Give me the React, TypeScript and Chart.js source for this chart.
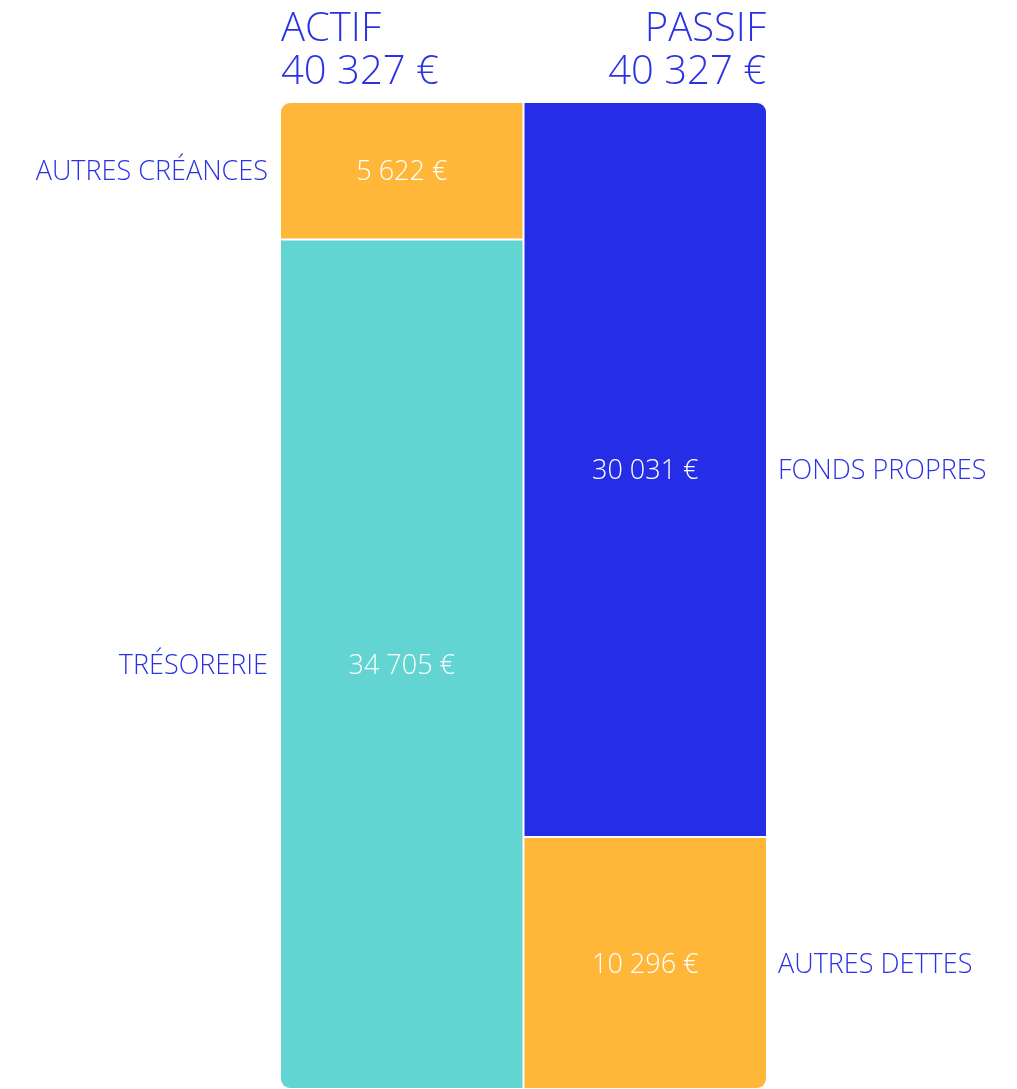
import React, { useEffect, useRef } from "react";
import { Chart, registerables } from "chart.js";

Chart.register(...registerables);

const columns = ["ACTIF", "PASSIF"];
const columnTotals = [40327, 40327];
const seriesNames = ["TRÉSORERIE", "AUTRES CRÉANCES", "AUTRES DETTES", "FONDS PROPRES"];
const tresorerie = [34705, null];
const autresCreances = [5622, null];
const autresDettes = [null, 10296];
const fondsPropres = [null, 30031];

const ORANGE = "#FFB739";
const TEAL = "#62D5D3";
const BLUE = "#252DE6";
const TEXT = "#2A32E4";
const FONT = "'Open Sans', 'Noto Sans', sans-serif";

const fmt = (v: number) => v.toString().replace(/\B(?=(\d{3})+(?!\d))/g, " ") + " €";

const labelPlugin = {
  id: "balanceLabels",
  afterDatasetsDraw(chart: any) {
    const { ctx, chartArea } = chart;
    ctx.save();
    // headers
    ctx.fillStyle = TEXT;
    ctx.font = `300 40px ${FONT}`;
    ctx.textBaseline = "alphabetic";
    ctx.textAlign = "left";
    ctx.fillText(columns[0], chartArea.left + 1, 41);
    ctx.fillText(fmt(columnTotals[0]), chartArea.left + 1, 84);
    ctx.textAlign = "right";
    ctx.fillText(columns[1], chartArea.right - 1, 41);
    ctx.fillText(fmt(columnTotals[1]), chartArea.right - 1, 84);

    chart.data.datasets.forEach((ds: any, di: number) => {
      const meta = chart.getDatasetMeta(di);
      meta.data.forEach((el: any, i: number) => {
        const v = ds.data[i];
        if (v == null) return;
        const { x, y, base, width } = el.getProps(["x", "y", "base", "width"], true);
        const cy = (y + base) / 2 + 2;
        ctx.textBaseline = "middle";
        ctx.font = `300 27px ${FONT}`;
        ctx.fillStyle = "#ffffff";
        ctx.textAlign = "center";
        ctx.fillText(fmt(v), x, cy);
        ctx.fillStyle = TEXT;
        if (i === 0) {
          ctx.textAlign = "right";
          ctx.fillText(ds.label, x - width / 2 - 12, cy);
        } else {
          ctx.textAlign = "left";
          ctx.fillText(ds.label, x + width / 2 + 11, cy);
        }
      });
    });
    ctx.restore();
  },
};

export default function App() {
  const ref = useRef<HTMLCanvasElement>(null);
  useEffect(() => {
    document.body.style.margin = "0";
    const R = 10;
    const chart = new Chart(ref.current!, {
      type: "bar",
      data: {
        labels: columns,
        datasets: [
          { label: seriesNames[0], data: tresorerie, backgroundColor: TEAL, borderRadius: { bottomLeft: R } },
          { label: seriesNames[1], data: autresCreances, backgroundColor: ORANGE, borderRadius: { topLeft: R } },
          { label: seriesNames[2], data: autresDettes, backgroundColor: ORANGE, borderRadius: { bottomRight: R } },
          { label: seriesNames[3], data: fondsPropres, backgroundColor: BLUE, borderRadius: { topRight: R } },
        ] as any,
      },
      options: {
        animation: false,
        responsive: false,
        layout: { padding: { left: 280, right: 250, top: 102, bottom: 0 } },
        datasets: {
          bar: {
            categoryPercentage: 1,
            barPercentage: 1,
            borderWidth: 1,
            borderColor: "#ffffff",
            borderSkipped: false,
            inflateAmount: 0,
            skipNull: true,
          },
        } as any,
        scales: {
          x: { stacked: true, display: false },
          y: { stacked: true, display: false, min: 0, max: columnTotals[0] },
        },
        plugins: { legend: { display: false }, tooltip: { enabled: false } },
      },
      plugins: [labelPlugin],
    });
    return () => chart.destroy();
  }, []);
  return (
    <div style={{ position: "absolute", left: 0, top: 0, width: 1017, height: 1089 }}>
      <canvas ref={ref} width={1017} height={1089} />
    </div>
  );
}
